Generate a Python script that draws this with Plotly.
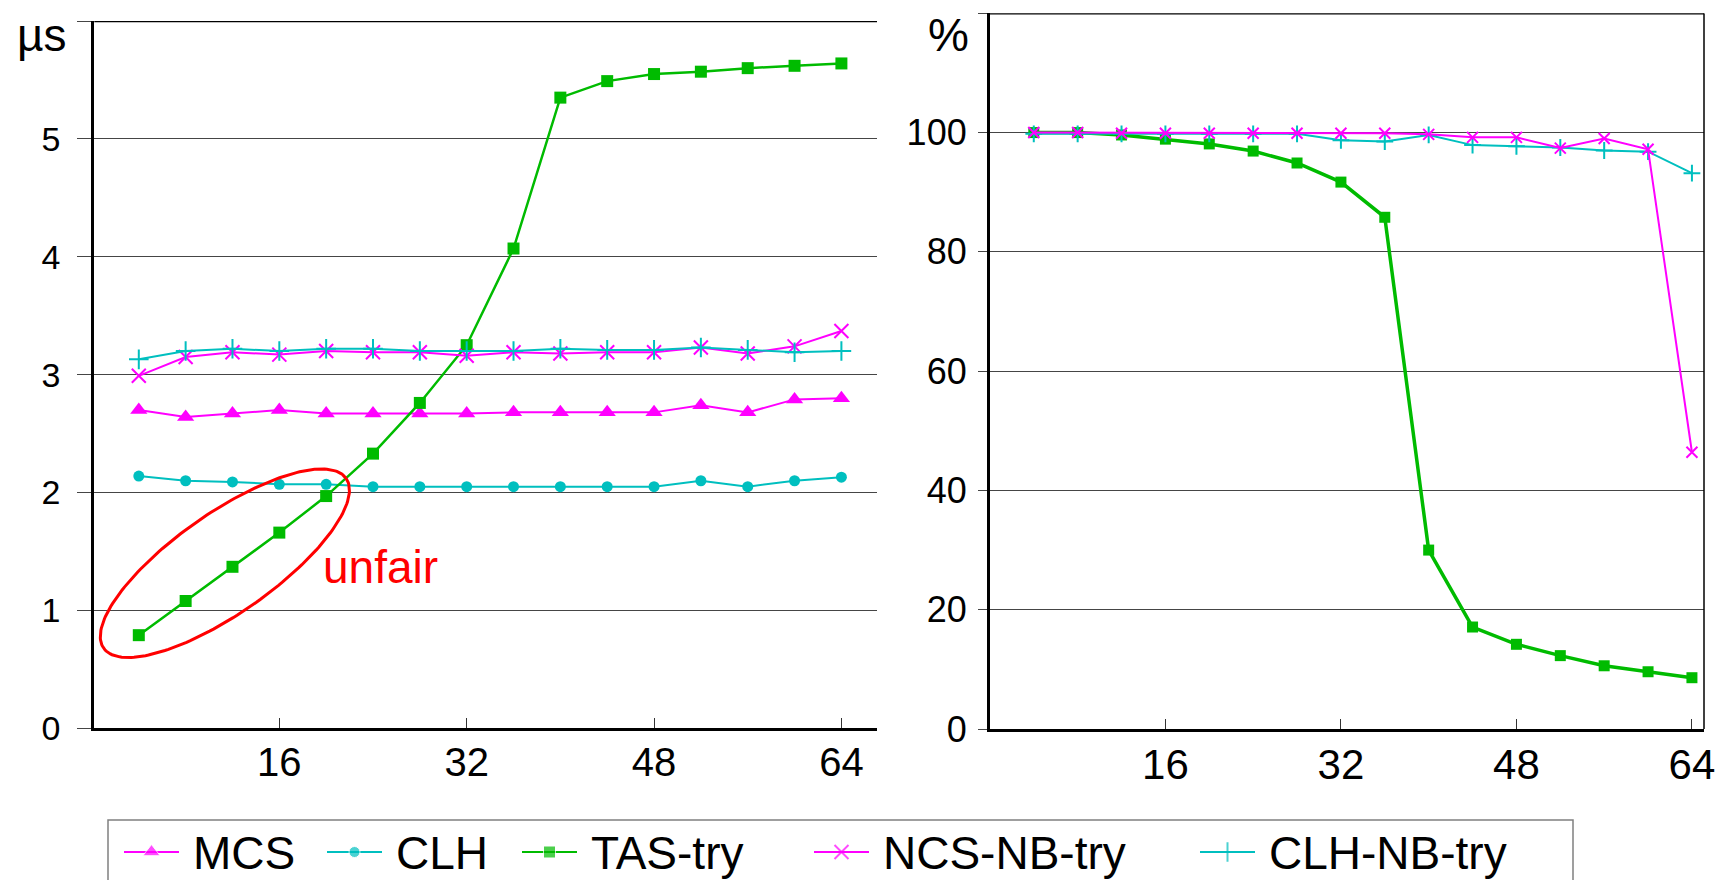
import numpy as np
import plotly.graph_objects as go

# ---------------- data ----------------
threads = [4, 8, 12, 16, 20, 24, 28, 32, 36, 40, 44, 48, 52, 56, 60, 64]

# left panel: latency (µs)
mcs_us   = [2.70, 2.64, 2.67, 2.70, 2.67, 2.67, 2.67, 2.67, 2.68, 2.68, 2.68, 2.68, 2.74, 2.68, 2.79, 2.80]
clh_us   = [2.14, 2.10, 2.09, 2.07, 2.07, 2.05, 2.05, 2.05, 2.05, 2.05, 2.05, 2.05, 2.10, 2.05, 2.10, 2.13]
tas_us   = [0.79, 1.08, 1.37, 1.66, 1.97, 2.33, 2.76, 3.25, 4.07, 5.35, 5.49, 5.55, 5.57, 5.60, 5.62, 5.64]
ncs_us   = [2.99, 3.15, 3.19, 3.17, 3.20, 3.19, 3.19, 3.16, 3.19, 3.18, 3.19, 3.19, 3.23, 3.18, 3.24, 3.37]
clhnb_us = [3.13, 3.20, 3.22, 3.20, 3.22, 3.22, 3.20, 3.20, 3.20, 3.22, 3.21, 3.21, 3.23, 3.21, 3.19, 3.20]

# right panel: success rate (%)
tas_pct   = [100, 100, 99.6, 98.9, 98.1, 96.9, 94.9, 91.7, 85.8, 30.0, 17.1, 14.2, 12.3, 10.6, 9.6, 8.6]
ncs_pct   = [100, 100, 99.9, 99.9, 99.9, 99.9, 99.9, 99.9, 99.9, 99.7, 99.2, 99.2, 97.4, 99.0, 97.2, 46.4]
clhnb_pct = [99.8, 99.8, 99.8, 99.8, 99.8, 99.8, 99.8, 98.7, 98.5, 99.6, 97.9, 97.7, 97.5, 97.0, 96.8, 93.2]

series_names = ["MCS", "CLH", "TAS-try", "NCS-NB-try", "CLH-NB-try"]

x_ticks = [16, 32, 48, 64]
us_ticks = [0, 1, 2, 3, 4, 5, 6]
us_labels = ["0", "1", "2", "3", "4", "5", ""]
pct_ticks = [0, 20, 40, 60, 80, 100, 120]
pct_labels = ["0", "20", "40", "60", "80", "100", ""]

# ---------------- style ----------------
OFF = 8                      # page body margin of the html page
W, H = 1733 - OFF, 880 - OFF
MAG = "#ff00ff"
CYA = "#00bfbf"
GRN = "#00bb00"
RED = "#ff0000"
FONT = "Liberation Sans, Arial, sans-serif"
GRID = "#454545"

STYLE = {
    "MCS":        dict(color=MAG, symbol="triangle-up", size=15, mlw=0),
    "CLH":        dict(color=CYA, symbol="circle", size=11, mlw=0),
    "TAS-try":    dict(color=GRN, symbol="square", size=12, mlw=0),
    "NCS-NB-try": dict(color=MAG, symbol="x-thin", size=14, mlw=2),
    "CLH-NB-try": dict(color=CYA, symbol="cross-thin", size=14, mlw=2),
}

def sx(v):   # screen px -> paper x
    return (v - OFF) / W

def sy(v):   # screen px -> paper y
    return 1 - (v - OFF) / H

# plot-area screen geometry
L_X0, L_X1, L_Y0, L_Y1 = 94.3, 877.0, 21.0, 728.3
R_X0, R_X1, R_Y0, R_Y1 = 989.9, 1704.0, 13.3, 729.0
L_XR = [0.2, 67.04]
R_XR = [0.0, 65.1]

fig = go.Figure()

def add(x, y, name, lw, xa, ya, size=None):
    st = STYLE[name]
    marker = dict(symbol=st["symbol"], size=size or st["size"], color=st["color"])
    if st["mlw"]:
        marker["line"] = dict(color=st["color"], width=st["mlw"])
    fig.add_trace(go.Scatter(
        x=x, y=y, name=name, mode="lines+markers",
        line=dict(color=st["color"], width=lw), marker=marker,
        xaxis=xa, yaxis=ya, showlegend=False, cliponaxis=False))

add(threads, mcs_us, "MCS", 2, "x", "y")
add(threads, clh_us, "CLH", 2, "x", "y")
add(threads, tas_us, "TAS-try", 2.5, "x", "y")
add(threads, ncs_us, "NCS-NB-try", 2, "x", "y")
add(threads, clhnb_us, "CLH-NB-try", 2, "x", "y")

add(threads, tas_pct, "TAS-try", 3.5, "x2", "y2", size=11)
add(threads, clhnb_pct, "CLH-NB-try", 2, "x2", "y2", size=12)
add(threads, ncs_pct, "NCS-NB-try", 2, "x2", "y2", size=11)

# red ellipse annotation around the "unfair" region (pixel-shaped, converted to data units)
px_per_x = (L_X1 - L_X0) / (L_XR[1] - L_XR[0])
px_per_y = (L_Y1 - L_Y0) / 6.0
ecx, ecy, ea, eb, eth = 11.35, 1.40, 148.0, 50.0, np.deg2rad(35.0)
t = np.linspace(0, 2 * np.pi, 200)
dx = ea * np.cos(t) * np.cos(eth) - eb * np.sin(t) * np.sin(eth)
dy = ea * np.cos(t) * np.sin(eth) + eb * np.sin(t) * np.cos(eth)
fig.add_trace(go.Scatter(x=ecx + dx / px_per_x, y=ecy + dy / px_per_y, mode="lines",
                         line=dict(color=RED, width=3), hoverinfo="skip",
                         showlegend=False, xaxis="x", yaxis="y"))

# ---------------- legend (drawn on a pixel-space overlay axis) ----------------
LEG_BOX = (108, 820, 1573)                  # left, top, right (screen px)
LEG_SYM_X = [124, 327, 522, 814, 1200]      # start of each legend sample line
LEG_SYM_LEN, LEG_TXT_DX, LEG_Y = 55, 67, 852
annotations = []
for name, x0 in zip(series_names, LEG_SYM_X):
    st = STYLE[name]
    marker = dict(symbol=st["symbol"], size=[0, st["size"], 0], color=st["color"])
    if st["mlw"]:
        marker["line"] = dict(color=st["color"], width=st["mlw"])
    fig.add_trace(go.Scatter(
        x=[x0 - OFF, x0 - OFF + LEG_SYM_LEN / 2, x0 - OFF + LEG_SYM_LEN],
        y=[LEG_Y - OFF] * 3, mode="lines+markers",
        line=dict(color=st["color"], width=2), marker=marker,
        xaxis="x3", yaxis="y3", showlegend=False, hoverinfo="skip", cliponaxis=False))
    annotations.append(dict(text=name, xref="paper", yref="paper", x=sx(x0 + LEG_TXT_DX),
                            y=sy(LEG_Y + 1), xanchor="left", yanchor="middle",
                            showarrow=False, font=dict(size=46)))

common_x = dict(ticks="inside", ticklen=10, tickwidth=1, tickcolor="#333",
                showline=True, linecolor="black", linewidth=3, showgrid=False,
                zeroline=False, tickvals=x_ticks, tickmode="array")
common_y = dict(ticks="outside", tickwidth=1, tickcolor=GRID, showgrid=True,
                gridcolor=GRID, gridwidth=1.2, showline=True, linecolor="black",
                linewidth=3, zeroline=False, tickmode="array")

annotations += [
    dict(text="µs", xref="paper", yref="paper", x=sx(41.5), y=1.0,
         xanchor="center", yanchor="top", borderpad=0, showarrow=False, font=dict(size=46)),
    dict(text="%", xref="paper", yref="paper", x=sx(948.5), y=1.0,
         xanchor="center", yanchor="top", borderpad=0, showarrow=False, font=dict(size=46)),
    dict(text="unfair", xref="x", yref="y", x=24.6, y=1.37,
         xanchor="center", yanchor="middle", showarrow=False,
         font=dict(size=46, color=RED)),
]

fig.update_layout(
    width=W, height=H, margin=dict(l=0, r=0, t=0, b=0, autoexpand=False),
    paper_bgcolor="white", plot_bgcolor="rgba(0,0,0,0)",
    font=dict(family=FONT, color="black"),
    showlegend=False,
    xaxis=dict(domain=[sx(L_X0), sx(L_X1)], range=L_XR, anchor="y",
               tickfont=dict(size=40), ticklabelstandoff=-3, **common_x),
    yaxis=dict(domain=[sy(L_Y1), sy(L_Y0)], range=[0, 6], anchor="x",
               tickvals=us_ticks, ticktext=us_labels, ticklen=14,
               tickfont=dict(size=34), ticklabelstandoff=10, **common_y),
    xaxis2=dict(domain=[sx(R_X0), sx(R_X1)], range=R_XR, anchor="y2",
                tickfont=dict(size=42), ticklabelstandoff=-3, **common_x),
    yaxis2=dict(domain=[sy(R_Y1), sy(R_Y0)], range=[0, 120], anchor="x2",
                tickvals=pct_ticks, ticktext=pct_labels, ticklen=9,
                tickfont=dict(size=36), ticklabelstandoff=4, **common_y),
    xaxis3=dict(domain=[0, 1], range=[0, W], visible=False, anchor="y3", fixedrange=True),
    yaxis3=dict(domain=[0, 1], range=[H, 0], visible=False, anchor="x3", fixedrange=True),
    shapes=[
        dict(type="line", xref="x domain", yref="y", x0=0, x1=1, y0=6, y1=6,
             line=dict(color="black", width=2.5)),
        dict(type="line", xref="x2 domain", yref="y2", x0=0, x1=1, y0=120, y1=120,
             line=dict(color="black", width=2.5)),
        dict(type="line", xref="x2 domain", yref="y2", x0=1, x1=1, y0=0, y1=120,
             line=dict(color="black", width=1.5)),
        dict(type="rect", xref="paper", yref="paper", x0=sx(LEG_BOX[0]), x1=sx(LEG_BOX[2]),
             y0=sy(LEG_BOX[1]), y1=sy(LEG_BOX[1]) - 0.2,
             line=dict(color="#808080", width=1.5), fillcolor="rgba(0,0,0,0)", layer="below"),
    ],
    annotations=annotations,
)

fig.write_html("out.html")
